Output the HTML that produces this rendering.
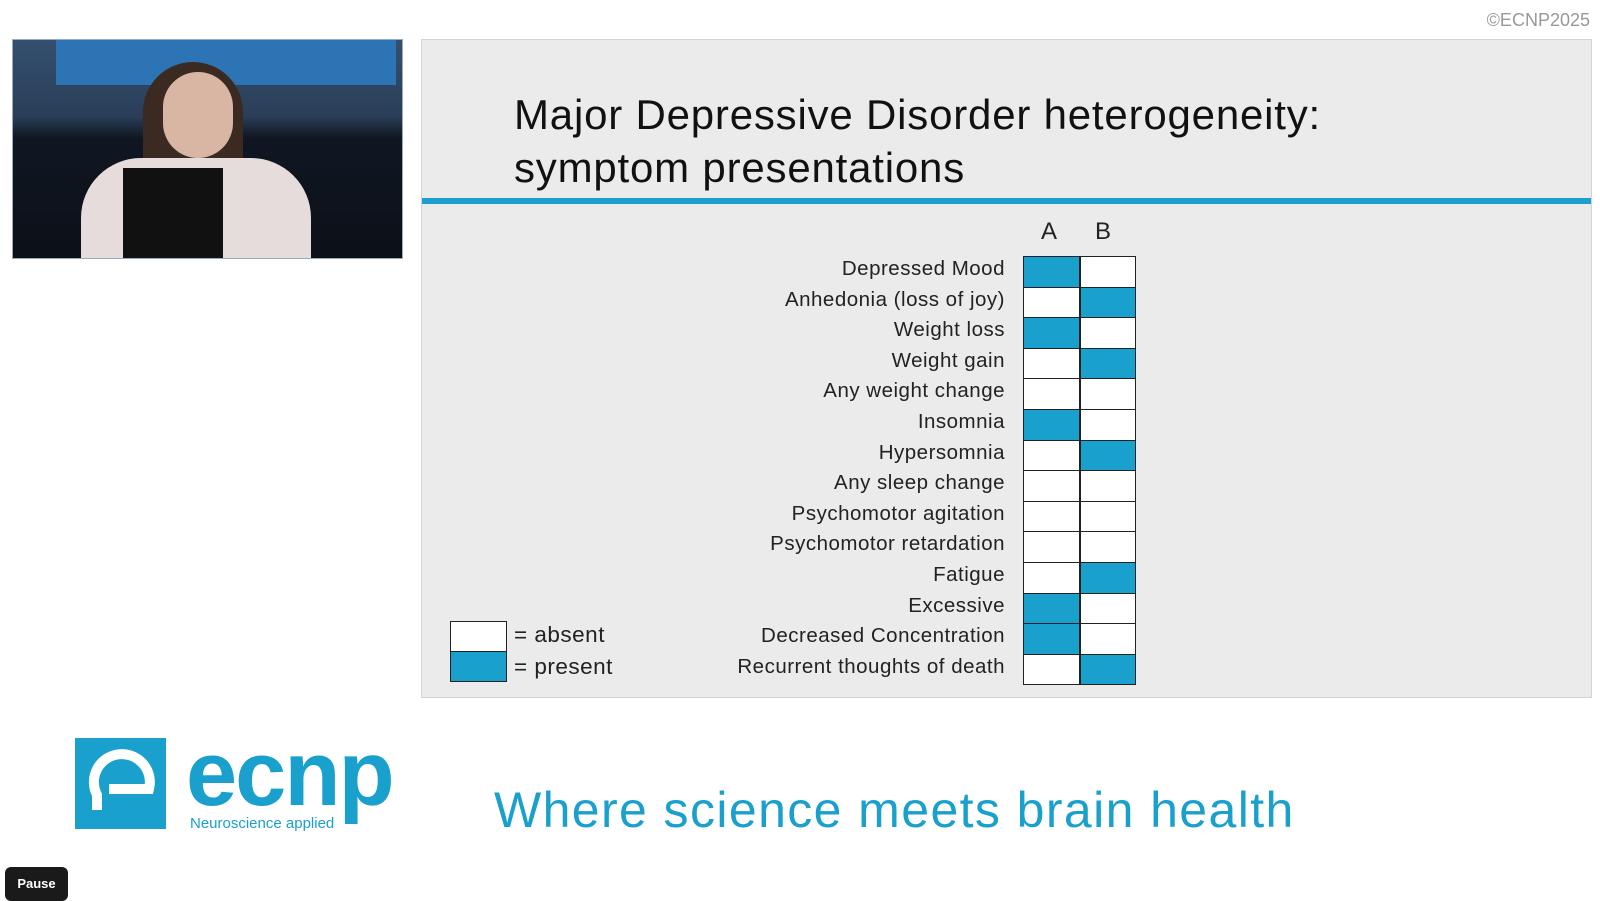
<!DOCTYPE html>
<html><head><style>
body{margin:0;width:1600px;height:901px;background:#fff;position:relative;overflow:hidden;font-family:"Liberation Sans",sans-serif}
.abs{position:absolute}
.slide{left:421px;top:39px;width:1169px;height:657px;background:#ebebeb;border:1px solid #d4d4d4}
.title{left:514px;top:88px;font-size:42px;line-height:53px;color:#111;letter-spacing:0.8px}
.bar{left:422px;top:198px;width:1169px;height:6px;background:#1a9fcf}
.lab{left:600px;width:405px;text-align:right;font-size:20.5px;color:#222;height:30.6px;line-height:30.6px;letter-spacing:0.5px}
.cell{height:29.6px;border:1px solid #222;background:#fff;box-sizing:content-box}
.p{background:#1aa0cc}
</style></head><body>
<div class="abs" style="right:10px;top:10px;font-size:18px;color:#999">©ECNP2025</div>
<div class="abs" style="left:12px;top:39px;width:389px;height:218px;background:linear-gradient(180deg,#34506f 0%,#2a3e58 35%,#101722 45%,#0c1018 100%);border:1px solid #9ab;overflow:hidden">
<div class="abs" style="left:43px;top:0;width:340px;height:45px;background:#2c74b4"></div>
<div class="abs" style="left:130px;top:22px;width:100px;height:122px;border-radius:50px 50px 20px 20px;background:#3a2a22"></div>
<div class="abs" style="left:150px;top:32px;width:70px;height:86px;border-radius:35px;background:#d9b6a4"></div>
<div class="abs" style="left:68px;top:118px;width:230px;height:100px;border-radius:60px 60px 0 0;background:#e6dcdc"></div>
<div class="abs" style="left:110px;top:128px;width:100px;height:90px;background:#111"></div>
</div>
<div class="slide abs"></div>
<div class="title abs">Major Depressive Disorder heterogeneity:<br>symptom presentations</div>
<div class="bar abs"></div>
<div class="abs" style="left:1041px;top:218px;font-size:24px;color:#222">A</div>
<div class="abs" style="left:1095px;top:218px;font-size:24px;color:#222">B</div>
<div class="lab abs" style="top:254px">Depressed Mood</div>
<div class="lab abs" style="top:284.6px">Anhedonia (loss of joy)</div>
<div class="lab abs" style="top:315.2px">Weight loss</div>
<div class="lab abs" style="top:345.8px">Weight gain</div>
<div class="lab abs" style="top:376.4px">Any weight change</div>
<div class="lab abs" style="top:407px">Insomnia</div>
<div class="lab abs" style="top:437.6px">Hypersomnia</div>
<div class="lab abs" style="top:468.2px">Any sleep change</div>
<div class="lab abs" style="top:498.8px">Psychomotor agitation</div>
<div class="lab abs" style="top:529.4px">Psychomotor retardation</div>
<div class="lab abs" style="top:560px">Fatigue</div>
<div class="lab abs" style="top:590.6px">Excessive</div>
<div class="lab abs" style="top:621.2px">Decreased Concentration</div>
<div class="lab abs" style="top:651.8px">Recurrent thoughts of death</div>
<div class="abs" style="left:1023px;top:256px;width:113px;display:grid;grid-template-columns:1fr 1fr;grid-auto-rows:30.6px;border-bottom:1px solid #222">
<div class="cell p"></div><div class="cell"></div>
<div class="cell"></div><div class="cell p"></div>
<div class="cell p"></div><div class="cell"></div>
<div class="cell"></div><div class="cell p"></div>
<div class="cell"></div><div class="cell"></div>
<div class="cell p"></div><div class="cell"></div>
<div class="cell"></div><div class="cell p"></div>
<div class="cell"></div><div class="cell"></div>
<div class="cell"></div><div class="cell"></div>
<div class="cell"></div><div class="cell"></div>
<div class="cell"></div><div class="cell p"></div>
<div class="cell p"></div><div class="cell"></div>
<div class="cell p"></div><div class="cell"></div>
<div class="cell"></div><div class="cell p"></div>
</div>
<div class="abs cell" style="left:450px;top:621px;width:55px;height:29px"></div>
<div class="abs cell p" style="left:450px;top:651px;width:55px;height:29px"></div>
<div class="abs" style="left:514px;top:622px;font-size:22.5px;color:#222;letter-spacing:0.5px">= absent</div>
<div class="abs" style="left:514px;top:654px;font-size:22.5px;color:#222;letter-spacing:0.5px">= present</div>
<div class="abs" style="left:75px;top:738px;width:91px;height:91px;background:#1aa0cc"></div>
<svg class="abs" style="left:75px;top:738px" width="91" height="91"><path d="M22 72 L22 57 A28 28 0 1 1 74 51 L34 51" fill="none" stroke="#fff" stroke-width="10"/></svg>
<div class="abs" style="left:186px;top:722px;font-size:92px;font-weight:bold;color:#1aa0cc;letter-spacing:-2px">ecnp</div>
<div class="abs" style="left:190px;top:815px;font-size:15px;color:#1aa0cc">Neuroscience applied</div>
<div class="abs" style="left:494px;top:781px;font-size:50px;color:#1aa0cc;letter-spacing:1.4px">Where science meets brain health</div>
<div class="abs" style="left:5px;top:867px;width:63px;height:34px;background:#1a1a1a;border-radius:6px;color:#fff;font-size:13px;font-weight:bold;text-align:center;line-height:34px">Pause</div>
</body></html>
